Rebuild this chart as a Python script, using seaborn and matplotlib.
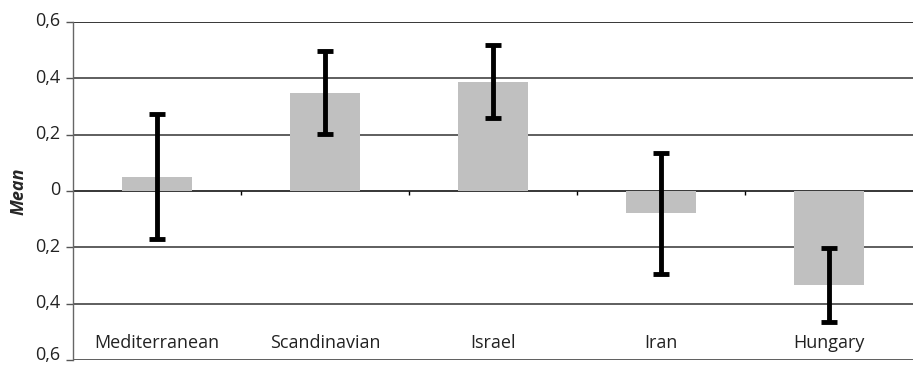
import numpy as np
import pandas as pd
import matplotlib
matplotlib.use("Agg")
import matplotlib.pyplot as plt
import matplotlib.transforms as mtransforms
import seaborn as sns

# values
groups = ["Mediterranean", "Scandinavian", "Israel", "Iran", "Hungary"]
means = [0.05, 0.348, 0.387, -0.078, -0.334]
err_low = [-0.17, 0.202, 0.259, -0.295, -0.465]
err_high = [0.273, 0.497, 0.518, 0.135, -0.202]
yticks = [0.6, 0.4, 0.2, 0, -0.2, -0.4, -0.6]
ytick_labels = ["0,6", "0,4", "0,2", "0", "0,2", "0,4", "0,6"]

df = pd.DataFrame({"group": groups, "mean": means})

sns.set_style("white")
plt.rcParams["font.family"] = ["Open Sans", "DejaVu Sans"]

fig = plt.figure(figsize=(9.14, 3.65), dpi=100)
ax = fig.add_axes([0.080, 0.0137, 0.919, 0.926])

# gridlines first
for t in yticks:
    col = "black" if t in (0.6, 0) else "#333333"
    ax.axhline(t, color=col, lw=1.1, zorder=1)

sns.barplot(data=df, x="group", y="mean", color="#c0c0c0", width=0.42,
            saturation=1, linewidth=0, edgecolor="none", ax=ax, zorder=2)

xpos = np.arange(len(groups))
m = np.array(means)
yerr = np.vstack([m - np.array(err_low), np.array(err_high) - m])
ax.errorbar(xpos, m, yerr=yerr, fmt="none", ecolor="black", elinewidth=3.5,
            capsize=5.5, capthick=3.5, zorder=3)

# small ticks on the zero line between categories
ax.vlines(xpos[:-1] + 0.5, -0.014, 0, color="black", lw=1, zorder=3)

ax.set_ylim(-0.6, 0.6)
ax.set_xlim(-0.5, len(groups) - 0.5)
ax.set_yticks(yticks)
ax.set_yticklabels(ytick_labels, fontsize=13, color="#222222")
ax.tick_params(axis="y", length=5, width=1, color="#555555", pad=4, left=True)
ax.set_xticks([])
ax.set_xlabel("")
ax.set_ylabel("Mean", fontsize=13, fontweight="bold", fontstyle="italic",
              labelpad=6)

# labels sit a little above their lines, the last one more so it stays in
labels = ax.get_yticklabels()
for k, lab in enumerate(labels):
    dy = 5 / 72 if k == len(labels) - 1 else 2 / 72
    lab.set_transform(lab.get_transform() +
                      mtransforms.ScaledTranslation(0, dy, fig.dpi_scale_trans))

for s in ["top", "right", "bottom"]:
    ax.spines[s].set_visible(False)
ax.spines["left"].set_color("#666666")
ax.spines["left"].set_linewidth(1)

# category labels sit inside the lowest band
for i, g in enumerate(groups):
    ax.text(i, -0.54, g, ha="center", va="center", fontsize=13, color="#222222")

fig.savefig("out.png", dpi=100)
